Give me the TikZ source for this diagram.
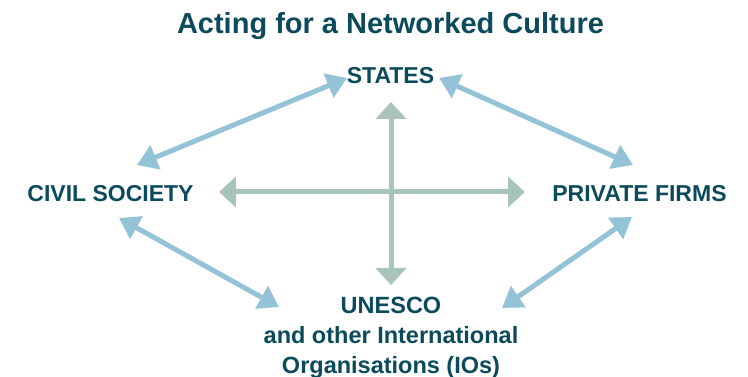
\documentclass[tikz,border=0pt]{standalone}
\usepackage{fontspec}
\setmainfont{Liberation Sans}
\usetikzlibrary{arrows.meta}
\definecolor{txt}{HTML}{0B4A5A}
\definecolor{blu}{HTML}{94C2D6}
\definecolor{grn}{HTML}{A9C4B9}
\tikzset{
  lbl/.style={font=\bfseries\fontsize{23}{30}\selectfont, text=txt, inner sep=0pt},
  bluearrow/.style={draw=blu, line width=5pt, {Triangle[length=20pt,width=25pt]}-{Triangle[length=20pt,width=25pt]}},
  grnarrow/.style={draw=grn, line width=5pt, {Triangle[length=17pt,width=30pt]}-{Triangle[length=17pt,width=30pt]}}
}
\begin{document}
\begin{tikzpicture}[x=1pt,y=-1pt]
\useasboundingbox (0,0) rectangle (748,377);
\node[lbl, font=\bfseries\fontsize{29}{34}\selectfont, anchor=base] (title) at (390.5,33.3) {Acting for a Networked Culture};
\node[lbl, anchor=base] (states) at (390.5,83.3) {STATES};
\node[lbl, anchor=base] (civil) at (110.5,201.7) {CIVIL SOCIETY};
\node[lbl, anchor=base] (private) at (639.5,201.7) {PRIVATE FIRMS};
\node[lbl, font=\bfseries\fontsize{23.5}{30}\selectfont, anchor=north, align=center] (unesco) at (391,296.5) {UNESCO\\and other International\\Organisations (IOs)};
% arrow end points
\coordinate (sl) at (347,78);
\coordinate (sr) at (439,78);
\coordinate (cu) at (137,165);
\coordinate (cd) at (119,218);
\coordinate (pu) at (633,165);
\coordinate (pd) at (632,217);
\coordinate (ul) at (279,307);
\coordinate (ur) at (502,308);
\coordinate (hl) at (219,192);
\coordinate (hr) at (525,192);
\coordinate (vt) at (391,102);
\coordinate (vb) at (391,285);
\draw[grnarrow] (hl) -- (hr);
\draw[grnarrow] (vt) -- (vb);
\draw[bluearrow] (cu) -- (sl);
\draw[bluearrow] (sr) -- (pu);
\draw[bluearrow] (cd) -- (ul);
\draw[bluearrow] (pd) -- (ur);
\end{tikzpicture}
\end{document}
